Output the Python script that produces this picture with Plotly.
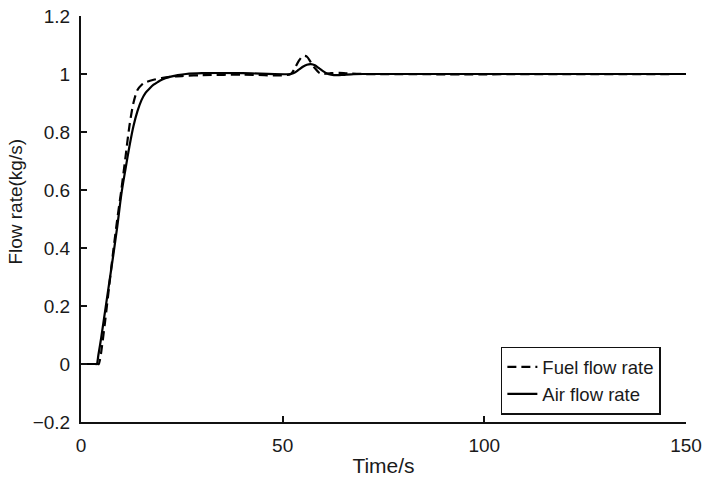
import plotly.graph_objects as go

# Step response of the two flow rates (time in s, flow in kg/s)
air_t = [0, 3.0, 3.6, 3.9, 4.3, 5, 6, 7, 8, 9, 10, 11, 12, 13, 14, 15, 16, 17, 18, 19, 20,
         22, 24, 26, 30, 40, 52, 53, 54, 55, 56, 57, 58, 59, 60, 61, 62, 63.5, 65, 67, 70,
         150]
air_q = [0, 0, 0, 0, 0.03, 0.09, 0.185, 0.28, 0.375, 0.475, 0.585, 0.67, 0.75, 0.82,
         0.872, 0.91, 0.935, 0.95, 0.963, 0.972, 0.98, 0.99, 0.996, 1.0, 1.003, 1.003, 1.0,
         1.005, 1.015, 1.025, 1.032, 1.034, 1.03, 1.02, 1.01, 1.002, 0.998, 0.996, 0.997,
         0.999, 1.0, 1.0]

fuel_t = [0, 3.5, 4.1, 4.4, 4.7, 5, 6, 7, 8, 9, 10, 11, 12, 13, 14, 15, 16, 18, 20, 22,
          25, 30, 40, 52, 53, 54, 55, 56, 57, 58, 59, 60, 62, 64, 66, 70, 150]
fuel_q = [0, 0, 0, 0, 0.015, 0.04, 0.15, 0.27, 0.39, 0.5, 0.6, 0.71, 0.82, 0.9, 0.945,
          0.962, 0.971, 0.98, 0.986, 0.99, 0.993, 0.996, 0.998, 1.0, 1.02, 1.045, 1.062,
          1.06, 1.04, 1.02, 1.005, 1.0, 1.003, 1.004, 1.002, 1.0, 1.0]

x_ticks = [0, 50, 100, 150]
y_ticks = [-0.2, 0, 0.2, 0.4, 0.6, 0.8, 1, 1.2]
y_labels = ["\u22120.2", "0", "0.2", "0.4", "0.6", "0.8", "1", "1.2"]

FONT = "Liberation Sans, Arial, sans-serif"
INK = "#1a1a1a"

fig = go.Figure()
fig.add_trace(go.Scatter(x=fuel_t, y=fuel_q, mode="lines", name="Fuel flow rate",
                         line=dict(color="black", width=2.2, dash="9px,5px",
                                   shape="spline", smoothing=0.8)))
fig.add_trace(go.Scatter(x=air_t, y=air_q, mode="lines", name="Air flow rate",
                         line=dict(color="black", width=2.2, shape="spline", smoothing=0.8)))

axis_common = dict(showline=True, linecolor="#111111", linewidth=2, mirror=False,
                   ticks="inside", ticklen=6, tickwidth=1.5, tickcolor="#111111",
                   showgrid=False, zeroline=False, automargin=False,
                   ticklabelstandoff=5,
                   tickfont=dict(family=FONT, size=19, color=INK))

fig.update_xaxes(range=[0, 150], tickvals=x_ticks, **axis_common,
                 title=dict(text="Time/s", font=dict(family=FONT, size=21, color=INK),
                            standoff=4))
fig.update_yaxes(range=[-0.2, 1.2], tickvals=y_ticks, ticktext=y_labels, **axis_common)

# y-axis label placed as a rotated annotation left of the tick labels
fig.add_annotation(text="Flow rate(kg/s)", textangle=-90, showarrow=False,
                   xref="paper", yref="paper", x=-0.108, y=0.542,
                   xanchor="center", yanchor="middle",
                   font=dict(family=FONT, size=19, color=INK))

fig.update_layout(
    width=704, height=486,
    margin=dict(l=81, r=18, t=16, b=64),
    plot_bgcolor="white", paper_bgcolor="white",
    legend=dict(x=0.694, y=0.185, xanchor="left", yanchor="top",
                bordercolor="#111111", borderwidth=1.5, bgcolor="white",
                font=dict(family=FONT, size=18.5, color=INK),
                tracegroupgap=0, itemwidth=30),
)

fig.write_html("out.html")
